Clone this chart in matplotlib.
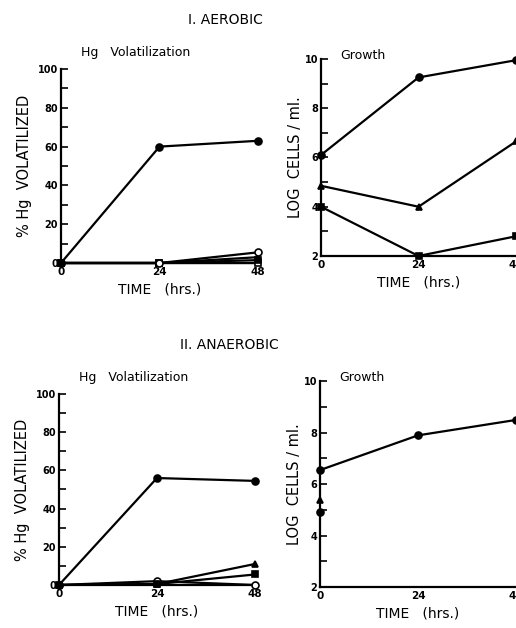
import matplotlib
matplotlib.use("Agg")
import matplotlib.pyplot as plt
from matplotlib.ticker import MultipleLocator

plt.rcParams['font.family'] = ['DejaVu Sans']

time_h = [0, 24, 48]
time_labels = ["0", "24", "48"]

# I. Aerobic - Hg volatilization (%)
aer_hg_filled_circle = [0, 60, 63]
aer_hg_open_circle = [0, 0, 5.5]
aer_hg_triangle = [0, 0, 3]
aer_hg_square = [0, 0, 1.5]
aer_hg_open_square = [0, 0, 0]

# I. Aerobic - growth (log cells/ml)
aer_gr_circle = [6.1, 9.25, 9.95]
aer_gr_triangle = [4.85, 4.0, 6.65]
aer_gr_square = [4.0, 2.0, 2.8]

# II. Anaerobic - Hg volatilization (%)
ana_hg_filled_circle = [0, 56, 54.5]
ana_hg_triangle = [0, 0.5, 11]
ana_hg_square = [0, 0.5, 5.5]
ana_hg_open_circle = [0, 2, 0]

# II. Anaerobic - growth (log cells/ml)
ana_gr_circle = [6.55, 7.9, 8.5]
ana_gr_triangle_t0 = [5.4]
ana_gr_square_t0 = [4.9]

fig = plt.figure(figsize=(5.16, 6.28), dpi=100)

def line(ax, x, y, marker, filled=True, ms=5):
    ax.plot(x, y, color='black', lw=1.6, marker=marker, ms=ms,
            mfc='black' if filled else 'white', mec='black', mew=1.2,
            clip_on=False, zorder=3)

def base(ax):
    for s in ['top', 'right']:
        ax.spines[s].set_visible(False)
    for s in ['left', 'bottom']:
        ax.spines[s].set_linewidth(1.6)
    ax.tick_params(axis='y', which='both', direction='in', length=5, width=1.2,
                   labelsize=7, pad=2)
    ax.tick_params(axis='x', which='both', direction='in', length=0,
                   labelsize=7.5, pad=3)
    for t in ax.get_xticklabels() + ax.get_yticklabels():
        t.set_fontweight('bold')
    ax.set_xlabel("TIME   (hrs.)", fontsize=10, labelpad=4)

def style_hg(ax, sub):
    ax.set_xlim(0, 48)
    ax.set_ylim(0, 100)
    ax.set_xticks(time_h)
    ax.set_xticklabels(time_labels)
    ax.yaxis.set_major_locator(MultipleLocator(20))
    ax.yaxis.set_minor_locator(MultipleLocator(10))
    base(ax)
    ax.set_ylabel("% Hg  VOLATILIZED", fontsize=10.5, labelpad=4)
    ax.text(0.1, 1.05, sub, transform=ax.transAxes, fontsize=9, ha='left', va='bottom')

def style_gr(ax):
    ax.set_xlim(0, 48)
    ax.set_ylim(2, 10)
    ax.set_xticks(time_h)
    ax.set_xticklabels(time_labels)
    ax.yaxis.set_major_locator(MultipleLocator(2))
    ax.yaxis.set_minor_locator(MultipleLocator(1))
    base(ax)
    ax.set_ylabel("LOG  CELLS / ml.", fontsize=10.5, labelpad=1)
    ax.text(0.1, 0.985, "Growth", transform=ax.transAxes, fontsize=9, ha='left', va='bottom')

# Top-left
ax1 = fig.add_axes([0.1182, 0.5812, 0.3818, 0.3089])
line(ax1, time_h, aer_hg_open_square, 's', filled=False, ms=4.5)
line(ax1, time_h, aer_hg_square, 's', ms=4)
line(ax1, time_h, aer_hg_triangle, '^', ms=4)
line(ax1, time_h, aer_hg_open_circle, 'o', filled=False)
line(ax1, time_h, aer_hg_filled_circle, 'o')
style_hg(ax1, "Hg   Volatilization")

# Top-right
ax2 = fig.add_axes([0.6221, 0.5924, 0.3779, 0.3137])
line(ax2, time_h, aer_gr_circle, 'o')
line(ax2, time_h, aer_gr_triangle, '^')
line(ax2, time_h, aer_gr_square, 's', ms=4.5)
style_gr(ax2)

# Bottom-left
ax3 = fig.add_axes([0.1143, 0.0685, 0.3798, 0.3041])
line(ax3, time_h, ana_hg_open_circle, 'o', filled=False)
line(ax3, time_h, ana_hg_square, 's', ms=4.5)
line(ax3, time_h, ana_hg_triangle, '^')
line(ax3, time_h, ana_hg_filled_circle, 'o')
style_hg(ax3, "Hg   Volatilization")

# Bottom-right
ax4 = fig.add_axes([0.6202, 0.0653, 0.3798, 0.3274])
line(ax4, time_h, ana_gr_circle, 'o')
line(ax4, time_h[:1], ana_gr_triangle_t0, '^')
line(ax4, time_h[:1], ana_gr_square_t0, 'o')
style_gr(ax4)

fig.text(225 / 516, 1 - 20 / 628, "I. AEROBIC", fontsize=10, ha='center', va='center')
fig.text(229 / 516, 1 - 345 / 628, "II. ANAEROBIC", fontsize=10, ha='center', va='center')

fig.savefig("out.png", dpi=100)
